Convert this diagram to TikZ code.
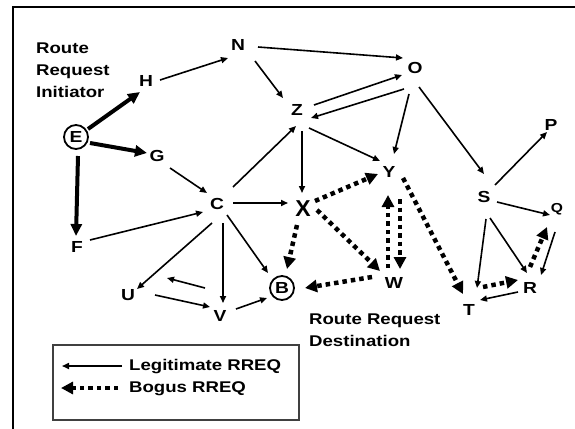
\documentclass[tikz,border=0pt]{standalone}
\usepackage{fontspec}
\setmainfont{Liberation Sans}[FakeStretch=1.2]
\newfontfamily\plainsans{Liberation Sans}
\usetikzlibrary{arrows.meta,calc}

\begin{document}
\begin{tikzpicture}[x=1pt,y=-1pt,
  lbl/.style={font=\fontsize{16}{16}\selectfont\bfseries, inner sep=0pt, text depth=0pt},
  ring/.style={lbl, circle, draw, line width=1.8pt, minimum size=24pt},
  link/.style={line width=1.6pt, -{Triangle[length=7pt,width=6pt]}},
  heavy/.style={line width=4pt, -{Triangle[length=12pt,width=11pt]}},
  bogus/.style={line width=4.5pt, dash pattern=on 4.5pt off 4pt, -{Triangle[length=12pt,width=12pt]}},
  caption/.style={font=\fontsize{15.5}{15.5}\selectfont\bfseries, inner sep=0pt, anchor=base west},
]
\useasboundingbox (0,0) rectangle (575,428);
\fill[white] (0,0) rectangle (575,428);

% frame
\draw[line width=2.3pt] (13,440) -- (13,7) -- (590,7);

% nodes
\node[ring] (E) at (76,137) {E};
\node[lbl] (H) at (146,81) {H};
\node[lbl] (N) at (238,45) {N};
\node[lbl] (O) at (415,68) {O};
\node[lbl] (Z) at (297,110) {Z};
\node[lbl] (G) at (157,156) {G};
\node[lbl] (C) at (217,204) {C};
\node[lbl, font=\plainsans\fontsize{23}{23}\selectfont\bfseries] (X) at (303,209) {X};
\node[lbl] (Y) at (389,172) {Y};
\node[lbl] (F) at (77,247) {F};
\node[lbl] (U) at (128,295) {U};
\node[lbl] (V) at (220,316) {V};
\node[ring] (B) at (282,288) {B};
\node[lbl] (W) at (394,283) {W};
\node[lbl] (S) at (484,197) {S};
\node[lbl] (P) at (551,125) {P};
\node[lbl, font=\fontsize{13}{13}\selectfont\bfseries] (Q) at (557,208) {Q};
\node[lbl] (R) at (530,288) {R};
\node[lbl] (T) at (469,310) {T};

% captions
\node[caption] (init1) at (36,54) {Route};
\node[caption] (init2) at (36,75.5) {Request};
\node[caption] (init3) at (36,97) {Initiator};
\node[caption] (dest1) at (309,324) {Route Request};
\node[caption] (dest2) at (309,346) {Destination};

% initiator broadcasts
\draw[heavy] ($(E)+(12,-8)$) -- ($(H)+(-6,11)$);
\draw[heavy] ($(E)+(14,6)$) -- ($(G)+(-10,-3)$);
\draw[heavy] ($(E)+(2,19)$) -- ($(F)+(-1,-11)$);

% legitimate forwarding
\draw[link] ($(H)+(14,-1)$) -- ($(N)+(-10,13)$);
\draw[link] ($(N)+(20,2)$) -- ($(O)+(-12,-10)$);
\draw[link] ($(N)+(17,16)$) -- ($(Z)+(-14,-12)$);
\draw[link] ($(Z)+(17,-5)$) -- ($(O)+(-13,7)$);
\draw[link] ($(O)+(-11,21)$) -- ($(Z)+(14,8)$);
\draw[link] ($(O)+(-6,26)$) -- ($(Y)+(5,-18)$);
\draw[link] ($(O)+(4,19)$) -- ($(S)+(0,-23)$);
\draw[link] ($(Z)+(12,18)$) -- ($(Y)+(-9,-11)$);
\draw[link] ($(Z)+(5,21)$) -- ($(X)+(-1,-16)$);
\draw[link] ($(C)+(16,-17)$) -- ($(Z)+(-1,16)$);
\draw[link] ($(G)+(13,12)$) -- ($(C)+(-10,-11)$);
\draw[link] ($(C)+(16,-1)$) -- ($(X)+(-15,-6)$);
\draw[link] ($(F)+(13,-7)$) -- ($(C)+(-14,8)$);
\draw[link] ($(C)+(-5,19)$) -- ($(U)+(9,-6)$);
\draw[link] ($(C)+(6,19)$) -- ($(V)+(3,-13)$);
\draw[link] ($(C)+(10,11)$) -- ($(B)+(-14,-15)$);
\draw[link] ($(U)+(27,0)$) -- ($(V)+(-10,-9)$);
\draw[link] ($(V)+(-15,-28)$) -- ($(U)+(39,-17)$);
\draw[link] ($(V)+(16,-7)$) -- ($(B)+(-15,10)$);
\draw[link] ($(S)+(11,-12)$) -- ($(P)+(-4,7)$);
\draw[link] ($(S)+(13,5)$) -- ($(Q)+(-7,7)$);
\draw[link] ($(S)+(2,22)$) -- ($(T)+(8,-22)$);
\draw[link] ($(S)+(6,21)$) -- ($(R)+(-3,-15)$);
\draw[link] ($(Q)+(-2,24)$) -- ($(R)+(11,-13)$);
\draw[link] ($(R)+(-12,4)$) -- ($(T)+(11,-10)$);

% bogus requests
\draw[bogus] ($(X)+(12,-8)$) -- ($(Y)+(-11,2)$);
\draw[bogus] ($(X)+(14,1)$) -- ($(W)+(-14,-12)$);
\draw[bogus] ($(X)+(-6,16)$) -- ($(B)+(5,-19)$);
\draw[bogus] ($(W)+(-22,-6)$) -- ($(B)+(23,0)$);
\draw[bogus] ($(W)+(-6,-15)$) -- ($(Y)+(-1,23)$);
\draw[bogus] ($(Y)+(11,27)$) -- ($(W)+(6,-14)$);
\draw[bogus] ($(Y)+(14,6)$) -- ($(T)+(-6,-16)$);
\draw[bogus] ($(T)+(14,-23)$) -- ($(R)+(-12,-8)$);
\draw[bogus] ($(R)+(0,-21)$) -- ($(Q)+(-10,19)$);

% legend
\node[draw=black!75, line width=1.2pt, minimum width=246pt, minimum height=75pt, inner sep=0pt] (legend) at (176,382.5) {};
\node[caption] (leg1) at (129,370) {Legitimate RREQ};
\node[caption] (leg2) at (129,392.5) {Bogus RREQ};
\coordinate (leg1tip) at (62,366);
\coordinate (leg2tip) at (61,388);
\draw[link] ($(leg1.base west)+(-7,-4)$) -- (leg1tip);
\draw[bogus] ($(leg2.base west)+(-11,-4.5)$) -- (leg2tip);
\end{tikzpicture}
\end{document}
